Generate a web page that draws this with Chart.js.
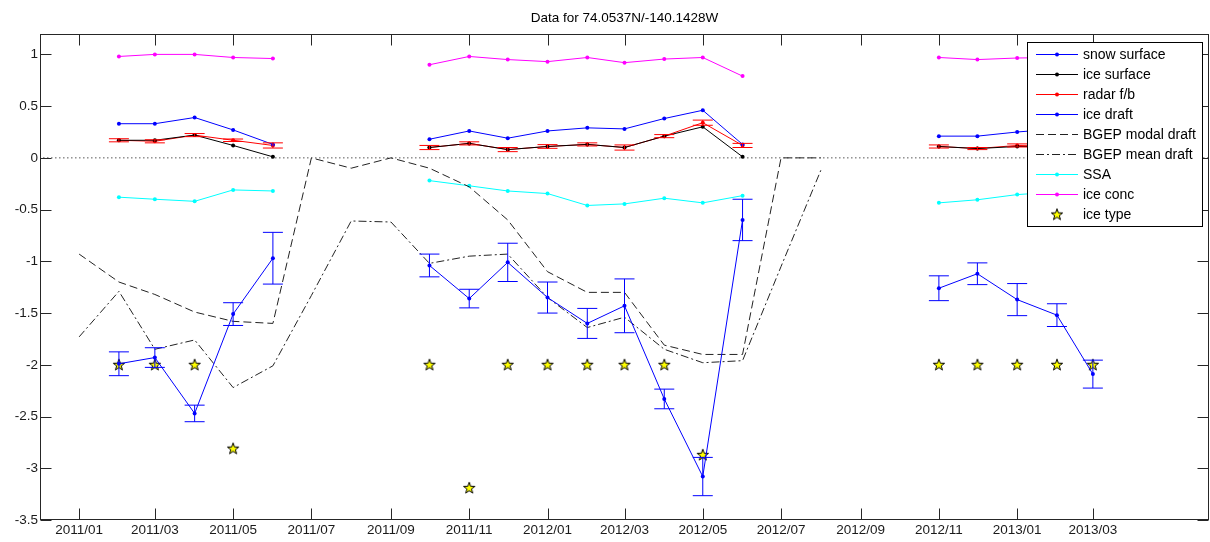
<!DOCTYPE html>
<html>
<head>
<meta charset="utf-8">
<script src="https://cdn.jsdelivr.net/npm/chart.js@4.4.1/dist/chart.umd.min.js"></script>
<style>
  html, body { margin: 0; padding: 0; background: #fff; }
</style>
</head>
<body>
<canvas id="chart" width="1210" height="542"></canvas>
<script>
// monthly samples, 2011/01 .. 2013/03
const months = ['2011/01','2011/02','2011/03','2011/04','2011/05','2011/06','2011/07','2011/08','2011/09',
  '2011/10','2011/11','2011/12','2012/01','2012/02','2012/03','2012/04','2012/05','2012/06',
  '2012/07','2012/08','2012/09','2012/10','2012/11','2012/12','2013/01','2013/02','2013/03'];

const snowSurface = [null, .33, .33, .39, .27, .13, null, null, null,
  .18, .26, .19, .26, .29, .28, .38, .46, .13, null, null, null, null, .21, .21, .25, .28, .30];
const iceSurface = [null, .17, .17, .22, .12, .01, null, null, null,
  .10, .14, .08, .11, .13, .10, .21, .30, .01, null, null, null, null, .11, .09, .11, .11, .11];
const radarFb = [null, .17, .16, .22, .17, .12, null, null, null,
  .10, .14, .08, .11, .13, .10, .21, .34, .12, null, null, null, null, .11, .09, .12, .11, .12];
const radarErr = [null, .015, .015, .015, .012, .025, null, null, null,
  .02, .015, .02, .018, .015, .025, .015, .025, .02, null, null, null, null, .015, .01, .015, .015, .015];
const iceDraft = [null, -1.99, -1.93, -2.47, -1.51, -0.97, null, null, null,
  -1.04, -1.36, -1.01, -1.35, -1.60, -1.43, -2.33, -3.08, -0.60, null, null, null, null, -1.26, -1.12, -1.37, -1.52, -2.09];
const draftErr = [null, .115, .095, .08, .11, .25, null, null, null,
  .11, .09, .185, .15, .145, .26, .095, .185, .2, null, null, null, null, .12, .105, .155, .11, .135];
const modalDraft = [-0.93, -1.2, -1.32, -1.49, -1.58, -1.6, 0, -0.1, 0,
  -0.1, -0.28, -0.6, -1.1, -1.3, -1.3, -1.81, -1.9, -1.9, 0, 0, null, null, null, null, null, null, null];
const meanDraft = [-1.73, -1.29, -1.85, -1.76, -2.22, -2.01, -1.33, -0.61, -0.62,
  -1.02, -0.95, -0.93, -1.35, -1.64, -1.54, -1.85, -1.98, -1.96, -1.05, -0.12, null, null, null, null, null, null, null];
const ssa = [null, -.38, -.40, -.42, -.31, -.32, null, null, null,
  -.22, -.27, -.32, -.345, -.46, -.445, -.39, -.435, -.365, null, null, null, null, -.435, -.405, -.355, -.33, -.30];
const iceConc = [null, .98, 1.0, 1.0, .97, .96, null, null, null,
  .90, .98, .95, .93, .97, .92, .955, .97, .79, null, null, null, null, .97, .95, .965, .97, .97];
const iceType = [null, -2, -2, -2, -2.81, null, null, null, null,
  -2, -3.19, -2, -2, -2, -2, -2, -2.87, null, null, null, null, null, -2, -2, -2, -2, -2];

const xTickLabels = ['2011/01','2011/03','2011/05','2011/07','2011/09','2011/11','2012/01',
  '2012/03','2012/05','2012/07','2012/09','2012/11','2013/01','2013/03'];
const yTicks = [-3.5, -3, -2.5, -2, -1.5, -1, -0.5, 0, 0.5, 1];

function dayOf(label) {
  const [y, m] = label.split('/').map(Number);
  return (Date.UTC(y, m - 1, 1) - Date.UTC(2011, 0, 1)) / 86400000;
}
const xs = months.map(dayOf);
const pts = vals => vals.map((v, i) => ({ x: xs[i], y: v }));

// yellow five-point star marker
const star = document.createElement('canvas');
star.width = 14; star.height = 14;
(function () {
  const c = star.getContext('2d');
  c.beginPath();
  for (let i = 0; i < 10; i++) {
    const r = i % 2 ? 2.4 : 6;
    const a = -Math.PI / 2 + i * Math.PI / 5;
    c.lineTo(7 + r * Math.cos(a), 7.3 + r * Math.sin(a));
  }
  c.closePath();
  c.fillStyle = '#ffff00';
  c.fill();
  c.strokeStyle = '#000';
  c.lineWidth = 1;
  c.stroke();
})();

function line(label, vals, color, extra) {
  return Object.assign({
    label, data: pts(vals), borderColor: color, backgroundColor: color,
    borderWidth: 1, pointRadius: 2, pointBorderWidth: 0, spanGaps: false, tension: 0
  }, extra || {});
}

const datasets = [
  line('snow surface', snowSurface, '#0000ff'),
  line('ice surface', iceSurface, '#000000'),
  line('radar f/b', radarFb, '#ff0000', { errs: radarErr }),
  line('ice draft', iceDraft, '#0000ff', { errs: draftErr }),
  line('BGEP modal draft', modalDraft, '#222222', { pointRadius: 0, borderDash: [8, 4] }),
  line('BGEP mean draft', meanDraft, '#222222', { pointRadius: 0, borderDash: [8, 3, 2, 3] }),
  line('SSA', ssa, '#00ffff'),
  line('ice conc', iceConc, '#ff00ff'),
  line('ice type', iceType, '#000000', { showLine: false, pointStyle: star, pointRadius: 7 }),
  { label: '', data: [{ x: -31, y: 0 }, { x: 881, y: 0 }], borderColor: '#000', borderWidth: 1,
    borderDash: [1, 3], pointRadius: 0 }
];

const errorBars = {
  id: 'errorBars',
  afterDatasetsDraw(chart) {
    const ctx = chart.ctx, xS = chart.scales.x, yS = chart.scales.y;
    chart.data.datasets.forEach(ds => {
      if (!ds.errs) return;
      ctx.save();
      ctx.strokeStyle = ds.borderColor;
      ctx.lineWidth = 1;
      ds.data.forEach((p, i) => {
        const e = ds.errs[i];
        if (p.y == null || e == null) return;
        const x = xS.getPixelForValue(p.x);
        const y1 = yS.getPixelForValue(p.y + e), y2 = yS.getPixelForValue(p.y - e);
        ctx.beginPath();
        ctx.moveTo(x, y1); ctx.lineTo(x, y2);
        ctx.moveTo(x - 10, y1); ctx.lineTo(x + 10, y1);
        ctx.moveTo(x - 10, y2); ctx.lineTo(x + 10, y2);
        ctx.stroke();
      });
      ctx.restore();
    });
  }
};

// box round the axes with inward ticks on all four sides
const frame = {
  id: 'frame',
  afterDatasetsDraw(chart) {
    const { ctx, chartArea: a, scales } = chart;
    const L = Math.round(a.left) + 0.5, R = Math.round(a.right) - 0.5;
    const T = Math.round(a.top) + 0.5, B = Math.round(a.bottom) - 0.5;
    ctx.save();
    ctx.strokeStyle = '#262626';
    ctx.lineWidth = 1;
    ctx.strokeRect(L, T, R - L, B - T);
    ctx.beginPath();
    scales.x.ticks.forEach(t => {
      const x = Math.round(scales.x.getPixelForValue(t.value)) + 0.5;
      ctx.moveTo(x, B); ctx.lineTo(x, B - 11);
      ctx.moveTo(x, T); ctx.lineTo(x, T + 11);
    });
    scales.y.ticks.forEach(t => {
      const y = Math.round(scales.y.getPixelForValue(t.value)) + 0.5;
      ctx.moveTo(L, y); ctx.lineTo(L + 11, y);
      ctx.moveTo(R, y); ctx.lineTo(R - 11, y);
    });
    ctx.stroke();
    ctx.restore();
  }
};

const legendBox = {
  id: 'legendBox',
  afterDatasetsDraw(chart) {
    const { ctx, chartArea: a } = chart;
    const items = chart.data.datasets.filter(d => d.label);
    const w = 175, rowH = 20;
    const right = Math.round(a.right) - 7, top = Math.round(a.top) + 8;
    const left = right - w, h = items.length * rowH + 4;
    ctx.save();
    ctx.fillStyle = '#fff';
    ctx.fillRect(left, top, w, h);
    ctx.strokeStyle = '#000';
    ctx.lineWidth = 1;
    ctx.strokeRect(left + 0.5, top + 0.5, w, h);
    ctx.font = '14px "Liberation Sans", Arial, sans-serif';
    ctx.textBaseline = 'middle';
    items.forEach((d, i) => {
      const y = top + 12.5 + i * rowH;
      if (d.showLine !== false) {
        ctx.strokeStyle = d.borderColor;
        ctx.setLineDash(d.borderDash || []);
        ctx.beginPath();
        ctx.moveTo(left + 9, y); ctx.lineTo(left + 51, y);
        ctx.stroke();
        ctx.setLineDash([]);
      }
      if (d.pointStyle === star) {
        ctx.drawImage(star, left + 30 - 7, y - 7);
      } else if (d.pointRadius) {
        ctx.fillStyle = d.borderColor;
        ctx.beginPath();
        ctx.arc(left + 30, y, 2, 0, Math.PI * 2);
        ctx.fill();
      }
      ctx.fillStyle = '#000';
      ctx.fillText(d.label, left + 56, y + 1);
    });
    ctx.restore();
  }
};

const tickFont = { family: '"Liberation Sans", Arial, sans-serif', size: 13.5 };

new Chart(document.getElementById('chart'), {
  type: 'line',
  data: { datasets },
  options: {
    responsive: false,
    animation: false,
    events: [],
    layout: { autoPadding: false, padding: { top: 0, right: 1, bottom: 0, left: 0 } },
    plugins: {
      legend: { display: false },
      tooltip: { enabled: false },
      title: {
        display: true,
        fullSize: false,
        text: 'Data for 74.0537N/-140.1428W',
        color: '#000',
        font: { family: '"Liberation Sans", Arial, sans-serif', size: 13.5, weight: 'normal' },
        padding: { top: 10, bottom: 7.5 }
      }
    },
    scales: {
      x: {
        type: 'linear',
        min: -30.5,
        max: 880.5,
        grid: { display: false, drawTicks: false, tickLength: 0 },
        border: { display: false },
        afterBuildTicks: s => { s.ticks = xTickLabels.map(l => ({ value: dayOf(l) })); },
        afterFit: s => { s.height = 22; },
        ticks: {
          autoSkip: false, maxRotation: 0, padding: 2, color: '#1a1a1a', font: tickFont,
          callback: v => xTickLabels.find(l => dayOf(l) === v) || ''
        }
      },
      y: {
        min: -3.5,
        max: 1.2,
        grid: { display: false, drawTicks: false, tickLength: 0 },
        border: { display: false },
        afterBuildTicks: s => { s.ticks = yTicks.map(v => ({ value: v })); },
        afterFit: s => { s.width = 40; },
        ticks: { padding: 2, color: '#1a1a1a', font: tickFont, callback: v => String(v) }
      }
    }
  },
  plugins: [errorBars, frame, legendBox]
});
</script>
</body>
</html>
